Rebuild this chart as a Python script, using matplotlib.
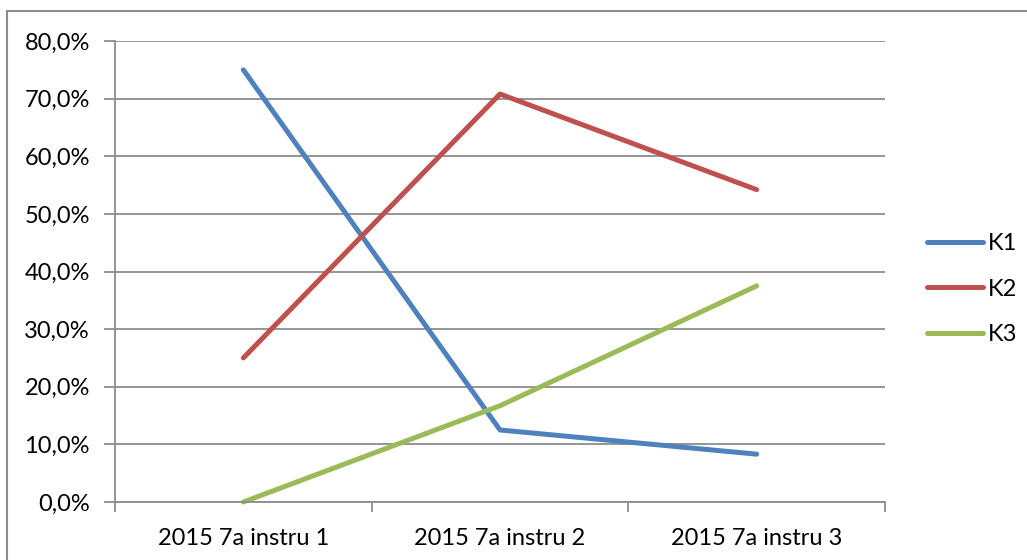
import matplotlib
matplotlib.use("Agg")
import matplotlib.pyplot as plt
from matplotlib.patches import Rectangle
from matplotlib.ticker import FuncFormatter, FixedLocator

categories = ["2015 7a instru 1", "2015 7a instru 2", "2015 7a instru 3"]
k1 = [75.0, 12.5, 8.3]
k2 = [25.0, 70.8, 54.2]
k3 = [0.0, 16.7, 37.5]
series_names = ["K1", "K2", "K3"]
y_ticks = [0, 10, 20, 30, 40, 50, 60, 70, 80]

plt.rcParams['font.family'] = ['Lato', 'DejaVu Sans']

W, H = 1027, 560
fig = plt.figure(figsize=(W / 100, H / 100), dpi=100)

# chart frame, running off the right and bottom edges
fig.patches.append(Rectangle((7 / W, -0.1), 1.2, 1 - 11 / H + 0.1,
                             transform=fig.transFigure, fill=False,
                             edgecolor="#8c8c8c", linewidth=1.5))

ax = fig.add_axes([115 / W, 58 / H, 770 / W, 461 / H])

colors = ["#4F81BD", "#C0504D", "#9BBB59"]
x = range(len(categories))
for vals, name, c in zip([k1, k2, k3], series_names, colors):
    ax.plot(x, vals, color=c, linewidth=3.6, label=name,
            solid_capstyle="round", solid_joinstyle="round", clip_on=False)

ax.set_xlim(-0.5, len(categories) - 0.5)
ax.set_ylim(0, 80)
ax.set_yticks(y_ticks)
ax.yaxis.set_major_formatter(FuncFormatter(lambda v, p: f"{v:.1f}%".replace(".", ",")))
ax.set_xticks(list(x))
ax.set_xticklabels(categories)
ax.xaxis.set_minor_locator(FixedLocator([-0.5, 0.5, 1.5, 2.5]))

ax.grid(axis="y", color="#8c8c8c", linewidth=1.3)
ax.set_axisbelow(True)
for s in ["top", "right"]:
    ax.spines[s].set_visible(False)
for s in ["left", "bottom"]:
    ax.spines[s].set_color("#8c8c8c")
    ax.spines[s].set_linewidth(1.3)

ax.tick_params(axis="y", length=8, width=1.3, color="#8c8c8c",
               labelsize=17, pad=10)
ax.tick_params(axis="x", which="major", length=0, labelsize=17, pad=19)
ax.tick_params(axis="x", which="minor", length=7, width=1.3, color="#8c8c8c")

leg = ax.legend(loc="center left", bbox_to_anchor=(1.027, 0.462), frameon=False,
                fontsize=17, handlelength=2.37, handletextpad=0.2,
                labelspacing=1.03)
for line in leg.get_lines():
    line.set_linewidth(3.6)

fig.savefig("out.png", dpi=100)
